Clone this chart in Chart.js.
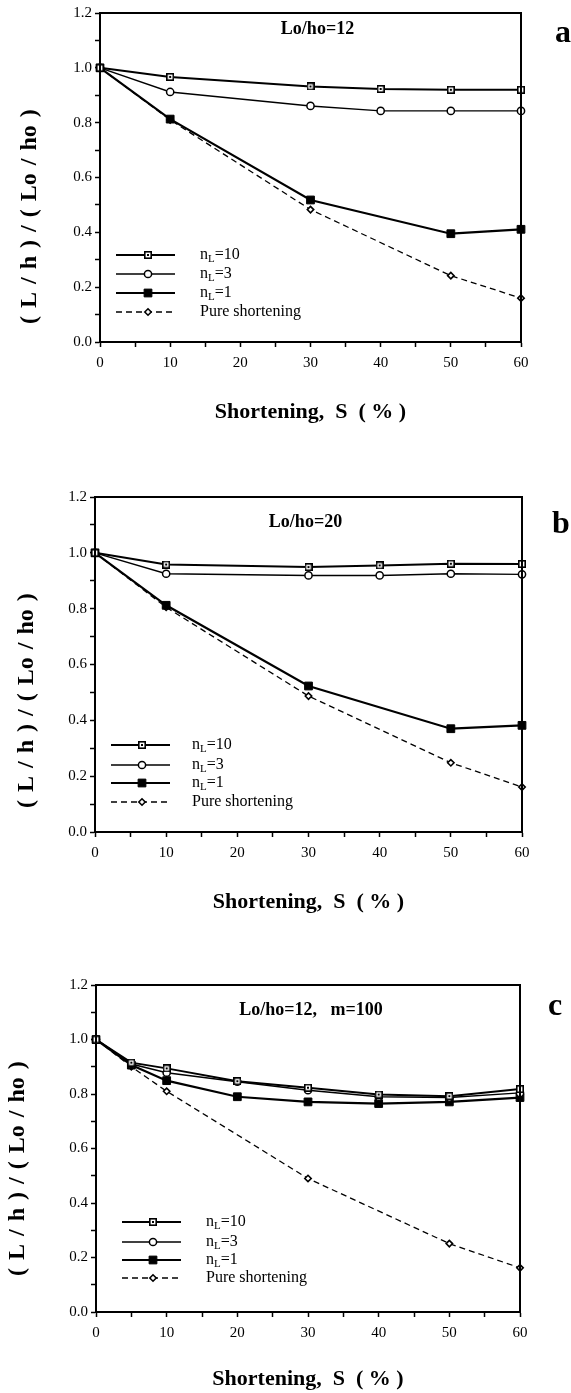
<!DOCTYPE html>
<html>
<head>
<meta charset="utf-8">
<title>Shortening panels</title>
<script src="https://cdn.jsdelivr.net/npm/chart.js@4.4.1/dist/chart.umd.min.js"></script>
<style>
    body { margin: 0; background: #fff; }
    .panel { position: absolute; left: 0; width: 571px; }
    .panel canvas { display: block; }
    .tag { position: absolute; font: bold 32px "Liberation Serif", serif; line-height: 32px; color: #000; }
</style>
</head>
<body>
<div class="panel" style="top:0"><canvas id="chartA" width="571" height="440"></canvas></div>
<div class="panel" style="top:440px"><canvas id="chartB" width="571" height="490"></canvas></div>
<div class="panel" style="top:930px"><canvas id="chartC" width="571" height="463"></canvas></div>
<div class="tag" style="left:555px; top:15px">a</div>
<div class="tag" style="left:552px; top:506px">b</div>
<div class="tag" style="left:548px; top:988px">c</div>

<script>
// ========== data ==========
const seriesNames = ['nL=10', 'nL=3', 'nL=1', 'Pure shortening'];

// (a) Lo/ho=12
const sA = [0, 10, 30, 40, 50, 60];
const a10 = [1.0, 0.967, 0.932, 0.923, 0.920, 0.920];
const a3 = [1.0, 0.912, 0.861, 0.843, 0.843, 0.843];
const sA1 = [0, 10, 30, 50, 60];
const a1 = [1.0, 0.813, 0.518, 0.395, 0.411];
const aPure = [1.0, 0.81, 0.483, 0.242, 0.160];

// (b) Lo/ho=20
const sB = [0, 10, 30, 40, 50, 60];
const b10 = [1.0, 0.958, 0.949, 0.955, 0.961, 0.960];
const b3 = [1.0, 0.925, 0.919, 0.919, 0.925, 0.923];
const sB1 = [0, 10, 30, 50, 60];
const b1 = [1.0, 0.812, 0.523, 0.370, 0.382];
const bPure = [1.0, 0.805, 0.487, 0.248, 0.161];

// (c) Lo/ho=12, m=100
const sC = [0, 5, 10, 20, 30, 40, 50, 60];
const c10 = [1.0, 0.915, 0.894, 0.847, 0.823, 0.798, 0.792, 0.818];
const c3 = [1.0, 0.910, 0.878, 0.845, 0.814, 0.790, 0.787, 0.804];
const c1 = [1.0, 0.906, 0.849, 0.790, 0.771, 0.765, 0.771, 0.787];
const sCPure = [0, 5, 10, 30, 50, 60];
const cPure = [1.0, 0.90, 0.81, 0.490, 0.251, 0.162];

const xTicks = { min: 0, max: 60, step: 5, labelEvery: 10 };
const yTicks = { min: 0, max: 1.2, step: 0.1 };

// ========== look ==========
const SERIF = '"Liberation Serif", "Times New Roman", serif';
Chart.defaults.font.family = SERIF;
Chart.defaults.color = '#000';

function pts(xs, ys) {
    return xs.map((x, i) => ({ x: x, y: ys[i] }));
}

// open square with a dot in the middle (nL=10 marker)
function boxDot(size) {
    const c = document.createElement('canvas');
    c.width = c.height = size;
    const g = c.getContext('2d');
    g.fillStyle = '#fff';
    g.fillRect(0, 0, size, size);
    g.strokeStyle = '#000';
    g.lineWidth = 1.6;
    g.strokeRect(0.8, 0.8, size - 1.6, size - 1.6);
    g.fillStyle = '#000';
    g.fillRect(size / 2 - 1, size / 2 - 1, 2, 2);
    return c;
}
const boxDotImg = boxDot(8);

const styles = [
    { borderWidth: 2, pointStyle: boxDotImg, pointRadius: 4, pointBackgroundColor: '#fff', pointBorderWidth: 1.5 },
    { borderWidth: 1.4, pointStyle: 'circle', pointRadius: 3.6, pointBackgroundColor: '#fff', pointBorderWidth: 1.5 },
    { borderWidth: 2.2, pointStyle: 'rect', pointRadius: 5.5, pointBackgroundColor: '#000', pointBorderWidth: 1 },
    { borderWidth: 1.3, borderDash: [6, 4], pointStyle: 'rectRot', pointRadius: 3.2, pointBackgroundColor: '#fff', pointBorderWidth: 1.6 }
];

function makeSets(list) {
    return list.map((d, i) => Object.assign({
        label: seriesNames[i],
        data: d,
        borderColor: '#000',
        pointBorderColor: '#000',
        tension: 0,
        clip: false,
        fill: false
    }, styles[i]));
}

// frame round the plot area
const frame = {
    id: 'frame',
    afterDraw(chart) {
        const { ctx, chartArea: a } = chart;
        ctx.save();
        ctx.strokeStyle = '#000';
        ctx.lineWidth = 2;
        ctx.strokeRect(a.left, a.top, a.right - a.left, a.bottom - a.top);
        ctx.restore();
    }
};

// bold caption inside the plot
const panelTitle = {
    id: 'panelTitle',
    afterDraw(chart, args, opts) {
        const { ctx, chartArea: a } = chart;
        ctx.save();
        ctx.font = 'bold 18px ' + SERIF;
        ctx.fillStyle = '#000';
        ctx.textAlign = 'center';
        ctx.textBaseline = 'middle';
        ctx.fillText(opts.text, (a.left + a.right) / 2 + opts.dx, a.top + opts.dy);
        ctx.restore();
    }
};

// legend drawn inside the plot, line sample + marker + text
const legendBox = {
    id: 'legendBox',
    afterDatasetsDraw(chart, args, opts) {
        const { ctx, chartArea: a } = chart;
        ctx.save();
        chart.data.datasets.forEach((ds, i) => {
            const y = a.bottom - opts.rows[i];
            ctx.strokeStyle = '#000';
            ctx.lineWidth = ds.borderWidth;
            ctx.setLineDash(ds.borderDash || []);
            ctx.beginPath();
            ctx.moveTo(a.left + opts.from, y);
            ctx.lineTo(a.left + opts.to, y);
            ctx.stroke();
            ctx.setLineDash([]);

            ctx.fillStyle = ds.pointBackgroundColor;
            ctx.lineWidth = ds.pointBorderWidth;
            Chart.helpers.drawPoint(ctx, {
                pointStyle: ds.pointStyle, radius: ds.pointRadius,
                borderWidth: ds.pointBorderWidth, rotation: 0
            }, a.left + opts.mark, y);

            // text, with the L of nL as subscript
            ctx.fillStyle = '#000';
            ctx.textAlign = 'left';
            ctx.textBaseline = 'middle';
            let x = a.left + opts.text;
            const name = ds.label;
            ctx.font = '16px ' + SERIF;
            if (name.startsWith('nL')) {
                ctx.fillText('n', x, y);
                x += ctx.measureText('n').width;
                ctx.font = '11px ' + SERIF;
                ctx.fillText('L', x, y + 4);
                x += ctx.measureText('L').width;
                ctx.font = '16px ' + SERIF;
                ctx.fillText(name.slice(2), x, y);
            } else {
                ctx.fillText(name, x, y);
            }
        });
        ctx.restore();
    }
};

function makeChart(id, sets, cfg) {
    return new Chart(document.getElementById(id), {
        type: 'line',
        data: { datasets: makeSets(sets) },
        options: {
            responsive: false,
            animation: false,
            events: [],
            layout: { padding: { top: cfg.padTop, right: 571 - cfg.right, left: 0, bottom: 0 } },
            plugins: {
                legend: { display: false },
                tooltip: { enabled: false },
                panelTitle: cfg.title,
                legendBox: cfg.legend
            },
            scales: {
                x: {
                    type: 'linear',
                    min: xTicks.min,
                    max: xTicks.max,
                    afterFit: s => { s.height = cfg.xAxisH; },
                    ticks: {
                        stepSize: xTicks.step,
                        autoSkip: false,
                        maxRotation: 0,
                        padding: 7,
                        font: { size: 15 },
                        color: '#000',
                        callback: v => (v % xTicks.labelEvery === 0 ? String(v) : '')
                    },
                    grid: { drawOnChartArea: false, drawTicks: true, tickLength: 5, tickColor: '#000', tickWidth: 1.5 },
                    border: { display: true, color: '#000', width: 2 },
                    title: {
                        display: true,
                        text: 'Shortening,\u2002S  ( % )',
                        font: { size: 22, weight: 'bold' },
                        color: '#000',
                        padding: { top: 0, bottom: cfg.xTitlePad }
                    }
                },
                y: {
                    min: yTicks.min,
                    max: yTicks.max,
                    afterFit: s => { s.width = cfg.left; },
                    ticks: {
                        stepSize: yTicks.step,
                        autoSkip: false,
                        padding: 3,
                        font: { size: 15 },
                        color: '#000',
                        callback: v => (Math.round(v * 10) % 2 === 0 ? v.toFixed(1) : '')
                    },
                    grid: { drawOnChartArea: false, drawTicks: true, tickLength: 5, tickColor: '#000', tickWidth: 1.5 },
                    border: { display: true, color: '#000', width: 2 },
                    title: {
                        display: true,
                        align: 'start',
                        text: ' '.repeat(cfg.yLead) + '(\u2004L\u2004/\u2004h\u2004)\u2004/\u2004(\u2004Lo\u2004/\u2004ho\u2004)',
                        font: { size: 24, weight: 'bold' },
                        color: '#000',
                        padding: { top: cfg.yTitlePad, bottom: 0 }
                    }
                }
            }
        },
        plugins: [frame, panelTitle, legendBox]
    });
}

makeChart('chartA', [pts(sA, a10), pts(sA, a3), pts(sA1, a1), pts(sA1, aPure)], {
    padTop: 13, left: 100, right: 521, xAxisH: 98, xTitlePad: 14, yTitlePad: 15, yLead: 3,
    title: { text: 'Lo/ho=12', dx: 7, dy: 16 },
    legend: { rows: [87, 68, 49, 30], from: 16, to: 75, mark: 48, text: 100 }
});

makeChart('chartB', [pts(sB, b10), pts(sB, b3), pts(sB1, b1), pts(sB1, bPure)], {
    padTop: 57, left: 95, right: 522, xAxisH: 98, xTitlePad: 14, yTitlePad: 12, yLead: 4,
    title: { text: 'Lo/ho=20', dx: -3, dy: 25 },
    legend: { rows: [87, 67, 49, 30], from: 16, to: 75, mark: 47, text: 97 }
});

makeChart('chartC', [pts(sC, c10), pts(sC, c3), pts(sC, c1), pts(sCPure, cPure)], {
    padTop: 55, left: 96, right: 520, xAxisH: 81, xTitlePad: 0, yTitlePad: 3, yLead: 6,
    title: { text: 'Lo/ho=12,   m=100', dx: 3, dy: 25 },
    legend: { rows: [90, 70, 52, 34], from: 26, to: 85, mark: 57, text: 110 }
});
</script>
</body>
</html>
